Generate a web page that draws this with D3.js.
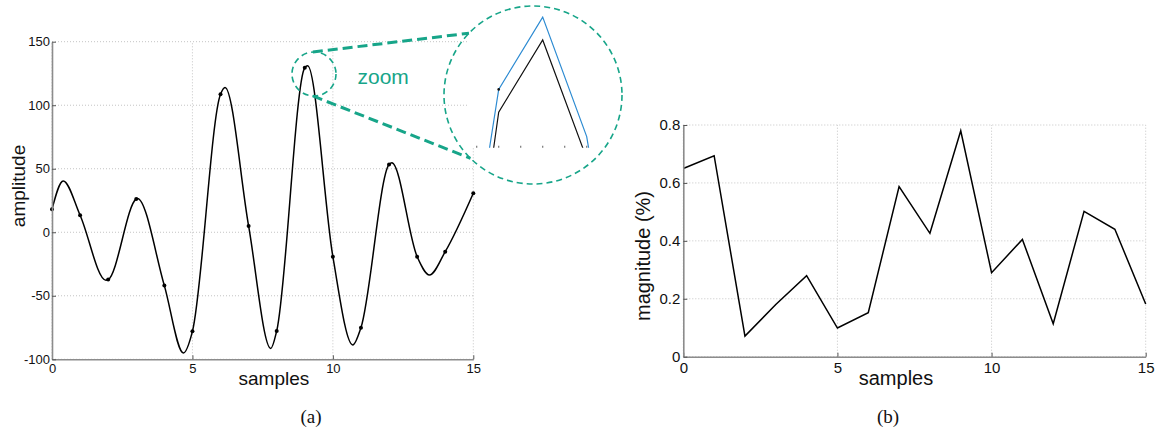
<!DOCTYPE html>
<html>
<head>
<meta charset="utf-8">
<script src="https://cdn.jsdelivr.net/npm/d3@7"></script>
<style>
  body { margin: 0; background: #fff; }
  svg { display: block; }
  text { font-family: "Liberation Sans", Arial, Helvetica, sans-serif; }
</style>
</head>
<body>
<svg id="fig" width="1158" height="429"></svg>
<script>
// ---- (a) signal: values at the integer sample instants ----
const sampleIdx = [0, 1, 2, 3, 4, 5, 6, 7, 8, 9, 10, 11, 12, 13, 14, 15];
const sampleAmp = [18.1, 13.4, -37.2, 26.2, -42.0, -78.0, 108.6, 5.0, -77.7, 129.5, -19.2, -75.1, 53.3, -19.2, -15.3, 30.7];

// ---- (a) continuous signal: position and level of each peak / trough ----
const extremaT   = [0.40, 1.92, 3.04, 4.68, 6.16, 7.79, 9.10, 10.71, 12.10, 13.44];
const extremaAmp = [40.4, -37.7, 26.6, -95.0, 114.0, -91.4, 131.0, -88.7, 54.8, -33.6];

// ---- magnified view around the tallest peak ----
const zoomTicks  = [8.8, 8.9, 9.0, 9.1, 9.2, 9.3];
const zoomBlackT = [8.8, 8.9, 9.1, 9.3];
const zoomBlackV = [123.7, 128.62, 130.9, 127.16];
const zoomBlueT  = [8.8, 8.9, 9.1, 9.3, 9.4];
const zoomBlueV  = [124.9, 129.34, 131.62, 127.85, 123.7];

// ---- (b) magnitude per sample ----
const magnitude = [0.650, 0.694, 0.071, 0.180, 0.280, 0.099, 0.152, 0.587, 0.426, 0.780, 0.290, 0.405, 0.114, 0.502, 0.440, 0.182];

// ---- tick values ----
const sampleTicks = [0, 5, 10, 15];
const ampTicks = [-100, -50, 0, 50, 100, 150];
const magTicks = [0, 0.2, 0.4, 0.6, 0.8];

const TEAL = "#17a589";
const BLUE = "#2d8bd2";
const AXIS = "#8c8c8c";
const GRID = "#c4c4c4";

const svg = d3.select("#fig");

function grid(g, x, y, xt, yt) {
  const [x0, x1] = x.range();
  const [y0, y1] = y.range();
  g.append("g").selectAll("line").data(xt).join("line")
    .attr("x1", d => x(d)).attr("x2", d => x(d))
    .attr("y1", y0).attr("y2", y1);
  g.append("g").selectAll("line").data(yt).join("line")
    .attr("x1", x0).attr("x2", x1)
    .attr("y1", d => y(d)).attr("y2", d => y(d));
  g.selectAll("line")
    .attr("stroke", GRID).attr("stroke-width", 1)
    .attr("stroke-dasharray", "1,2");
}

function axes(g, x, y, xt, yt, fs, xpad, ypad, xfmt, yfmt) {
  const ax = g.append("g")
    .attr("transform", `translate(0,${y.range()[0]})`)
    .call(d3.axisBottom(x).tickValues(xt).tickSizeInner(-4).tickSizeOuter(0)
      .tickPadding(xpad).tickFormat(xfmt));
  const ay = g.append("g")
    .attr("transform", `translate(${x.range()[0]},0)`)
    .call(d3.axisLeft(y).tickValues(yt).tickSizeInner(-4).tickSizeOuter(0)
      .tickPadding(ypad).tickFormat(yfmt));
  [ax, ay].forEach(a => {
    a.attr("font-family", null).attr("font-size", null);
    a.select(".domain").attr("stroke", AXIS).attr("stroke-width", 1.6);
    a.selectAll(".tick line").attr("stroke", "#555").attr("stroke-width", 1);
    a.selectAll(".tick text").attr("fill", "#111").style("font-size", fs + "px");
  });
}

// ================= (a) =================
const xA = d3.scaleLinear().domain([0, 15]).range([52, 473.3]);
const yA = d3.scaleLinear().domain([-100, 150]).range([359.3, 41.7]);
const gA = svg.append("g");
grid(gA.append("g"), xA, yA, sampleTicks, ampTicks);

const signalPts = sampleIdx.map((t, i) => [t, sampleAmp[i]])
  .concat(extremaT.map((t, i) => [t, extremaAmp[i]]))
  .sort((a, b) => a[0] - b[0]);

gA.append("path")
  .datum(signalPts)
  .attr("fill", "none").attr("stroke", "#000").attr("stroke-width", 1.5)
  .attr("d", d3.line().x(d => xA(d[0])).y(d => yA(d[1])).curve(d3.curveMonotoneX));

gA.append("g").selectAll("circle").data(sampleIdx).join("circle")
  .attr("cx", d => xA(d)).attr("cy", (d, i) => yA(sampleAmp[i]))
  .attr("r", 2).attr("fill", "#000");

axes(gA, xA, yA, sampleTicks, ampTicks, 13, 4, 2, d => String(d), d => String(d));

gA.append("text").attr("x", xA(7.9)).attr("y", 385)
  .attr("text-anchor", "middle").style("font-size", "19px").attr("fill", "#111")
  .text("samples");
gA.append("text").attr("transform", "translate(25,186) rotate(-90)")
  .attr("text-anchor", "middle").style("font-size", "19px").attr("fill", "#111")
  .text("amplitude");

// ---- magnified inset ----
const lens = { cx: 314, cy: 74, r: 22 };
const loupe = { cx: 533, cy: 95, r: 89 };
const xZ = d3.scaleLinear().domain([8.8, 9.3]).range([476.7, 586.7]);
const yZ = d3.scaleLinear().domain([127.5, 131.7]).range([147.7, 14.6]);
const zoomBottom = yZ.range()[0];

const defs = svg.append("defs");
defs.append("clipPath").attr("id", "zoomClip")
  .append("rect").attr("x", 468).attr("y", 0)
  .attr("width", 200).attr("height", zoomBottom);

const gZ = svg.append("g");
gZ.append("rect").attr("x", 468).attr("y", 0)
  .attr("width", 200).attr("height", zoomBottom).attr("fill", "#fff");
const gZc = gZ.append("g").attr("clip-path", "url(#zoomClip)");
const zline = d3.line().x(d => xZ(d[0])).y(d => yZ(d[1]));
gZc.append("path").datum(zoomBlueT.map((t, i) => [t, zoomBlueV[i]]))
  .attr("fill", "none").attr("stroke", BLUE).attr("stroke-width", 1.2).attr("d", zline);
gZc.append("path").datum(zoomBlackT.map((t, i) => [t, zoomBlackV[i]]))
  .attr("fill", "none").attr("stroke", "#111").attr("stroke-width", 1.2).attr("d", zline);
gZc.append("circle").attr("cx", xZ(zoomBlueT[1])).attr("cy", yZ(zoomBlueV[1]))
  .attr("r", 1.3).attr("fill", "#111");
gZ.append("g").selectAll("line").data(zoomTicks).join("line")
  .attr("x1", d => xZ(d)).attr("x2", d => xZ(d))
  .attr("y1", zoomBottom).attr("y2", zoomBottom - 2)
  .attr("stroke", "#777").attr("stroke-width", 1.2);

// outlines and connectors
const rad = Math.PI / 180;
const onCircle = (c, a) => [c.cx + c.r * Math.cos(a * rad), c.cy + c.r * Math.sin(a * rad)];
const connectors = [[onCircle(lens, -93), onCircle(loupe, 224)], [onCircle(lens, 93), onCircle(loupe, 134.6)]];
svg.append("g").selectAll("line").data(connectors).join("line")
  .attr("x1", d => d[0][0]).attr("y1", d => d[0][1])
  .attr("x2", d => d[1][0]).attr("y2", d => d[1][1])
  .attr("stroke", TEAL).attr("stroke-width", 3).attr("stroke-dasharray", "10,5");
svg.append("g").selectAll("circle").data([lens, loupe]).join("circle")
  .attr("cx", d => d.cx).attr("cy", d => d.cy).attr("r", d => d.r)
  .attr("fill", "none").attr("stroke", TEAL).attr("stroke-width", 1.6)
  .attr("stroke-dasharray", "6,4");
svg.append("text").attr("x", 357.5).attr("y", 84)
  .style("font-size", "21px").attr("fill", TEAL).text("zoom");

// ================= (b) =================
const xB = d3.scaleLinear().domain([0, 15]).range([683.3, 1145.7]);
const yB = d3.scaleLinear().domain([0, 0.8]).range([356.7, 125]);
const gB = svg.append("g");
grid(gB.append("g"), xB, yB, sampleTicks, magTicks);
gB.append("path")
  .datum(magnitude)
  .attr("fill", "none").attr("stroke", "#000").attr("stroke-width", 1.5)
  .attr("stroke-linejoin", "miter")
  .attr("d", d3.line().x((d, i) => xB(sampleIdx[i])).y(d => yB(d)));
axes(gB, xB, yB, sampleTicks, magTicks, 15, 6, 3, d => String(d), d => d === 0 ? "0" : d.toFixed(1));

gB.append("text").attr("x", xB(6.9)).attr("y", 385)
  .attr("text-anchor", "middle").style("font-size", "20px").attr("fill", "#111")
  .text("samples");
gB.append("text").attr("transform", "translate(650,256) rotate(-90)")
  .attr("text-anchor", "middle").style("font-size", "20px").attr("fill", "#111")
  .text("magnitude (%)");

// ---- sub-figure captions ----
svg.append("g").selectAll("text").data([["(a)", 311], ["(b)", 888]]).join("text")
  .attr("x", d => d[1]).attr("y", 423).attr("text-anchor", "middle")
  .style("font-family", "'Liberation Serif', 'Times New Roman', serif")
  .style("font-size", "19px").attr("fill", "#111")
  .text(d => d[0]);
</script>
</body>
</html>
